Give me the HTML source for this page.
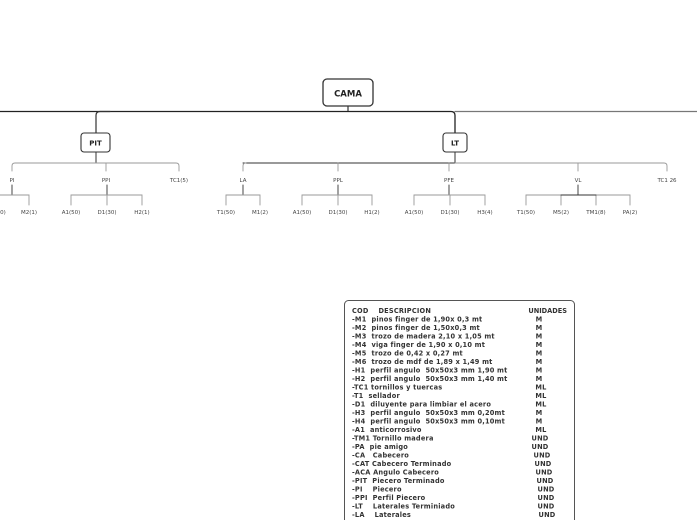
<!DOCTYPE html>
<html><head><meta charset="utf-8"><style>
html,body{margin:0;padding:0;background:#fff;}
svg{display:block;font-family:"DejaVu Sans","Liberation Sans",sans-serif;}
.l{font-size:5.5px;fill:#444;text-anchor:middle;}
.t{font-size:6.6px;font-weight:bold;fill:#333;letter-spacing:0.2px;}
</style></head><body>
<svg width="697" height="520" viewBox="0 0 697 520">
<g fill="none" stroke-linecap="round">
<path d="M348 106V111" stroke="#333" stroke-width="1.2"/>
<path d="M0 111.5H451q4 0 4 4V133" stroke="#222" stroke-width="1.3"/>
<path d="M455 111.5H697" stroke="#777" stroke-width="1.3"/>
<path d="M110 111.5h-10q-4 0-4 4V133" stroke="#333" stroke-width="1.2"/>
<path d="M96 152V163" stroke="#333" stroke-width="1"/>
<path d="M12 171v-5q0-3 3-3h161q3 0 3 3v5M106 163v8" stroke="#999" stroke-width="0.9"/>
<path d="M12 185V195M107 185V195" stroke="#333" stroke-width="0.9"/>
<path d="M-5 195H29V205M71 205V195H142V205M107 195V205" stroke="#999" stroke-width="0.9"/>
<path d="M455 152V163H243" stroke="#333" stroke-width="1"/>
<path d="M243 171v-5q0-3 3-3M338 163v8M449 163v8M455 163H664q3 0 3 3v5M578 163v8" stroke="#999" stroke-width="0.9"/>
<path d="M243 185V195M338 185V195M449 185V195M578 185V195" stroke="#333" stroke-width="0.9"/>
<path d="M226 205V195H260V205" stroke="#999" stroke-width="0.9"/>
<path d="M302 205V195H372V205M338 195V205" stroke="#999" stroke-width="0.9"/>
<path d="M414 205V195H485V205M450 195V205" stroke="#999" stroke-width="0.9"/>
<path d="M526 205V195H630V205M561 195V205M596 195V205" stroke="#999" stroke-width="0.9"/>
<path d="M561 195H596" stroke="#333" stroke-width="0.9"/>
</g>
<rect x="323" y="79" width="50" height="27" rx="4" fill="#fff" stroke="#333" stroke-width="1.3"/>
<text x="348" y="96.5" text-anchor="middle" font-size="8.5" font-weight="bold" fill="#222">CAMA</text>
<rect x="81" y="133" width="29" height="19" rx="3" fill="#fff" stroke="#333" stroke-width="1.1"/>
<text x="95.5" y="145.5" text-anchor="middle" font-size="7" font-weight="bold" fill="#222">PIT</text>
<rect x="443" y="133" width="24" height="19" rx="3" fill="#fff" stroke="#333" stroke-width="1.1"/>
<text x="455" y="145.5" text-anchor="middle" font-size="7" font-weight="bold" fill="#222">LT</text>
<g class="l">
<text x="12" y="182">PI</text><text x="106" y="182">PPI</text><text x="179" y="182">TC1(5)</text>
<text x="243" y="182">LA</text><text x="338" y="182">PPL</text><text x="449" y="182">PFE</text><text x="578" y="182">VL</text><text x="667" y="182">TC1 26</text>
<text x="-4" y="214">M1(50)</text><text x="29" y="214">M2(1)</text>
<text x="71" y="214">A1(50)</text><text x="107" y="214">D1(30)</text><text x="142" y="214">H2(1)</text>
<text x="226" y="214">T1(50)</text><text x="260" y="214">M1(2)</text>
<text x="302" y="214">A1(50)</text><text x="338" y="214">D1(30)</text><text x="372" y="214">H1(2)</text>
<text x="414" y="214">A1(50)</text><text x="450" y="214">D1(30)</text><text x="485" y="214">H3(4)</text>
<text x="526" y="214">T1(50)</text><text x="561" y="214">M5(2)</text><text x="596" y="214">TM1(8)</text><text x="630" y="214">PA(2)</text>
</g>
<rect x="344.5" y="300.5" width="230" height="230" rx="4" fill="#fff" stroke="#555" stroke-width="1"/>
<g class="t">
<text x="352" y="313">COD&#160;&#160;&#160;&#160;DESCRIPCION</text><text x="567" y="313" text-anchor="end" style="letter-spacing:0">UNIDADES</text>
<text x="352" y="321.5">-M1&#160; pinos finger de 1,90x 0,3 mt</text>
<text x="352" y="330">-M2&#160; pinos finger de 1,50x0,3 mt</text>
<text x="352" y="338.5">-M3&#160; trozo de madera 2,10 x 1,05 mt</text>
<text x="352" y="347">-M4&#160; viga finger de 1,90 x 0,10 mt</text>
<text x="352" y="355.5">-M5&#160; trozo de 0,42 x 0,27 mt</text>
<text x="352" y="364">-M6&#160; trozo de mdf de 1,89 x 1,49 mt</text>
<text x="352" y="372.5">-H1&#160; perfil angulo&#160; 50x50x3 mm 1,90 mt</text>
<text x="352" y="381">-H2&#160; perfil angulo&#160; 50x50x3 mm 1,40 mt</text>
<text x="352" y="389.5">-TC1 tornillos y tuercas</text>
<text x="352" y="398">-T1&#160; sellador</text>
<text x="352" y="406.5">-D1&#160; diluyente para limbiar el acero</text>
<text x="352" y="415">-H3&#160; perfil angulo&#160; 50x50x3 mm 0,20mt</text>
<text x="352" y="423.5">-H4&#160; perfil angulo&#160; 50x50x3 mm 0,10mt</text>
<text x="352" y="432">-A1&#160; anticorrosivo</text>
<text x="352" y="440.5">-TM1 Tornillo madera</text>
<text x="352" y="449">-PA&#160; pie amigo</text>
<text x="352" y="457.5">-CA&#160;&#160; Cabecero</text>
<text x="352" y="466">-CAT Cabecero Terminado</text>
<text x="352" y="474.5">-ACA Angulo Cabecero</text>
<text x="352" y="483">-PIT&#160; Piecero Terminado</text>
<text x="352" y="491.5">-PI&#160;&#160;&#160; Piecero</text>
<text x="352" y="500">-PPI&#160; Perfil Piecero</text>
<text x="352" y="508.5">-LT&#160;&#160;&#160; Laterales Terminiado</text>
<text x="352" y="517">-LA&#160;&#160;&#160; Laterales</text>
</g>
<g class="t" text-anchor="middle">
<text x="539" y="321.5">M</text><text x="539" y="330">M</text><text x="539" y="338.5">M</text><text x="539" y="347">M</text>
<text x="539" y="355.5">M</text><text x="539" y="364">M</text><text x="539" y="372.5">M</text><text x="539" y="381">M</text>
<text x="541" y="389.5">ML</text><text x="541" y="398">ML</text><text x="541" y="406.5">ML</text>
<text x="539" y="415">M</text><text x="539" y="423.5">M</text><text x="541" y="432">ML</text>
<text x="540" y="440.5">UND</text><text x="540" y="449">UND</text><text x="542" y="457.5">UND</text><text x="543" y="466">UND</text>
<text x="544" y="474.5">UND</text><text x="545" y="483">UND</text><text x="546" y="491.5">UND</text><text x="546" y="500">UND</text>
<text x="546" y="508.5">UND</text><text x="547" y="517">UND</text>
</g>
</svg>
</body></html>
